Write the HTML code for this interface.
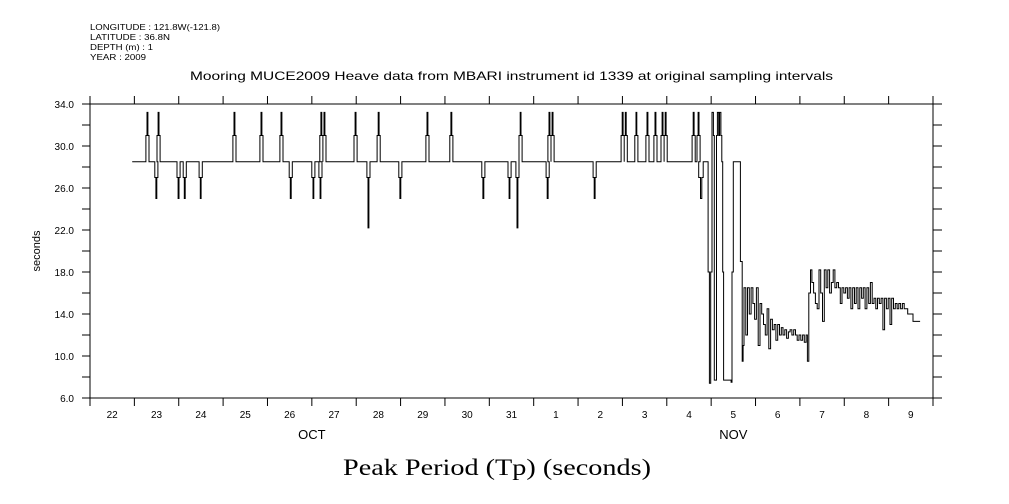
<!DOCTYPE html>
<html><head><meta charset="utf-8"><style>
body{margin:0;background:#fff;}
svg{display:block;font-family:"Liberation Sans",sans-serif;}
</style></head><body>
<svg id="chart" width="1009" height="504" viewBox="0 0 1009 504">
<g font-size="8" fill="#000">
<text x="90" y="30" textLength="130" lengthAdjust="spacingAndGlyphs">LONGITUDE : 121.8W(-121.8)</text>
<text x="90" y="40" textLength="80" lengthAdjust="spacingAndGlyphs">LATITUDE : 36.8N</text>
<text x="90" y="50" textLength="63" lengthAdjust="spacingAndGlyphs">DEPTH (m) : 1</text>
<text x="90" y="60" textLength="56" lengthAdjust="spacingAndGlyphs">YEAR : 2009</text>
</g>
<text x="190" y="80" font-size="12" textLength="643" lengthAdjust="spacingAndGlyphs">Mooring MUCE2009 Heave data from MBARI instrument id 1339 at original sampling intervals</text>
<text x="0" y="0" font-size="11" text-anchor="middle" transform="translate(40,251) rotate(-90)">seconds</text>
<text x="343" y="475" font-size="23" textLength="308" lengthAdjust="spacingAndGlyphs" font-family="Liberation Serif, serif">Peak Period (Tp) (seconds)</text>
<g id="axes"></g>
<g id="series"></g>
</svg>
<script>
const yTicks=[6,10,14,18,22,26,30,34];
const dayLabels=["22","23","24","25","26","27","28","29","30","31","1","2","3","4","5","6","7","8","9"];
const monthLabels=["OCT","NOV"];
const monthCenters=[5,14.5];
const baseValue=28.5;
const startDay=0.95;
const upSpikeDays=[1.26,1.51,3.22,3.83,4.28,5.18,5.25,5.95,6.47,7.57,8.11,9.67,10.32,10.39,11.97,12.04,12.28,12.53,12.71,12.87,12.94,13.57,13.68];
const downSpikeDays=[1.46,1.96,2.10,2.46,4.49,5.00,5.16,6.24,6.96,8.83,9.42,9.60,10.28,11.34];
const downSpikeVals=[25,25,25,25,25,25,25,22.2,25,25,25,22.2,25,25];
const tailDays=[13.72,13.76,13.79,13.82,13.93,13.96,13.99,14.02,14.05,14.07,14.11,14.12,14.14,14.17,14.19,14.22,14.24,14.26,14.28,14.45,14.47,14.50,14.64,14.66,14.70,14.72,
14.74,14.78,14.82,14.86,14.90,14.94,14.98,15.02,15.06,15.10,15.14,15.18,15.22,15.26,15.30,15.34,15.38,15.42,15.46,15.50,15.54,15.58,15.62,15.66,15.70,15.74,15.78,15.82,15.86,15.90,15.94,15.98,16.02,16.06,16.10,16.14,
16.17,16.20,16.24,
16.27,16.31,16.35,16.39,16.43,16.47,16.51,16.55,16.59,16.63,16.67,16.71,16.75,16.79,16.83,16.87,16.91,16.95,16.99,17.03,17.07,17.11,
17.15,17.19,17.23,17.27,17.31,17.35,17.39,17.43,17.47,17.51,17.55,17.59,17.63,17.67,17.71,17.75,17.79,17.83,17.87,17.91,17.95,17.99,18.03,18.07,18.11,18.15,18.19,18.23,18.27,18.31,18.35,18.39,18.43,18.47,18.55,18.65,18.71,18.73];
const tailVals=[27,25,27,28.5,18,7.4,18,33.2,31,7.7,7.7,31,33.2,31,33.2,31,28.5,18,7.7,7.5,18,28.5,28.5,19,9.5,11,
16.5,12,16.5,14,16.5,15,13.5,16.5,11,15,14,13,12,14.5,10.7,13.5,12.5,13,11.5,13,12,12.7,12,12.5,11.7,12.3,12.5,12,12.5,12,11.5,12,11.5,12,11.3,12,
9.5,16,18.2,
17,16,15,14.5,18.2,16,13.3,18.2,16.5,18.2,16,17,18.2,16.5,17,16.5,15,16.5,16,16.5,15.5,16.5,
14.5,16.5,15,16.5,14.5,16.5,15.5,16.5,14.5,16.5,15,17,15,15.5,14.5,15.5,15,15.5,12.5,15.5,14.5,15.5,13,15.5,14.5,15,14.5,15,14.5,15,14.5,14.5,14,14,13.3,13.3];

const L=90,R=933,T=104,B=398,NDAYS=19;
const xs=d=>L+d*(R-L)/NDAYS;
const ys=v=>B-(v-6)*(B-T)/28;
const NS="http://www.w3.org/2000/svg";
const ax=document.getElementById('axes');
function mk(tag,attrs,parent){const e=document.createElementNS(NS,tag);for(const k in attrs)e.setAttribute(k,attrs[k]);parent.appendChild(e);return e;}
const frame=mk('rect',{x:L,y:T,width:R-L,height:B-T,fill:'none',stroke:'#000','stroke-width':1},ax);


for(let v=6;v<=34;v+=2){
  const l=mk('line',{x1:L-8,x2:L,y1:ys(v),y2:ys(v),stroke:'#000'},ax);
  
  
  const r=mk('line',{x1:R,x2:R+9,y1:ys(v),y2:ys(v),stroke:'#000'},ax);
  
  
}
yTicks.forEach(v=>{
  const t=mk('text',{x:L-16,y:ys(v)+4,'font-size':10,'text-anchor':'end'},ax);
  t.textContent=v.toFixed(1);
  
  
});
for(let d=0;d<=NDAYS;d++){
  const a=mk('line',{x1:xs(d),x2:xs(d),y1:T-8,y2:T,stroke:'#000'},ax);
  
  
  const b=mk('line',{x1:xs(d),x2:xs(d),y1:B,y2:B+8,stroke:'#000'},ax);
  
  
}
dayLabels.forEach((s,i)=>{
  const t=mk('text',{x:xs(i+0.5),y:418,'font-size':10,'text-anchor':'middle'},ax);
  t.textContent=s;
  
  
});
monthLabels.forEach((s,i)=>{
  const t=mk('text',{x:xs(monthCenters[i]),y:439,'font-size':13,'text-anchor':'middle'},ax);
  t.textContent=s;
  
  
});
let pts=[[startDay,baseValue]];
let ev=[];
upSpikeDays.forEach(t=>ev.push([t,[[t,31],[t+0.025,33.2],[t+0.045,31],[t+0.07,baseValue]]]));
downSpikeDays.forEach((t,i)=>ev.push([t,[[t,27],[t+0.025,downSpikeVals[i]],[t+0.045,27],[t+0.07,baseValue]]]));
ev.sort((a,b)=>a[0]-b[0]);
ev.forEach(e=>pts=pts.concat(e[1]));
tailDays.forEach((d,i)=>pts.push([d,tailVals[i]]));
let path='M'+xs(pts[0][0]).toFixed(1)+','+ys(pts[0][1]).toFixed(1);
for(let i=1;i<pts.length;i++){
  path+=' H'+xs(pts[i][0]).toFixed(1)+' V'+ys(pts[i][1]).toFixed(1);
}
const ln=mk('path',{d:path,fill:'none',stroke:'#000','stroke-width':1},document.getElementById('series'));


</script>
</body></html>
